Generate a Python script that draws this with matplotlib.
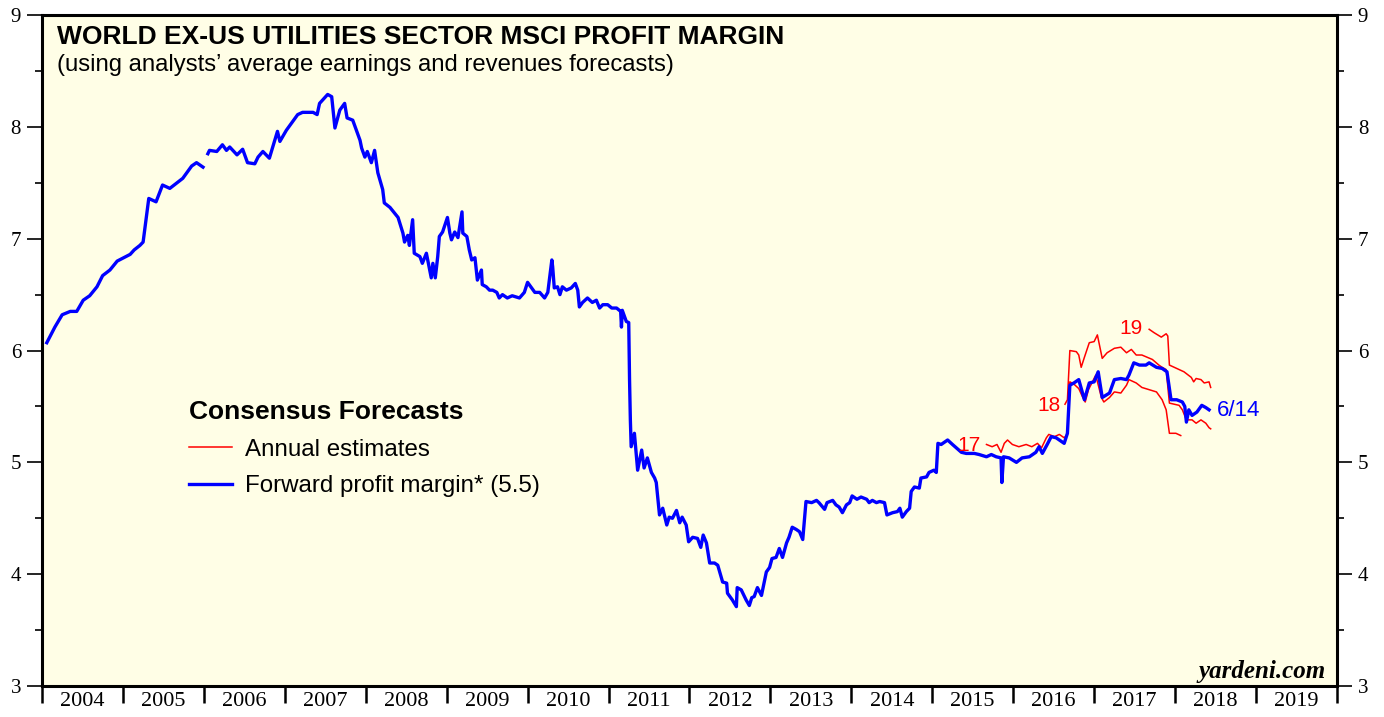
import matplotlib
matplotlib.use('Agg')
import matplotlib.pyplot as plt
from matplotlib.lines import Line2D
from matplotlib.ticker import MultipleLocator

# Forward profit margin (blue), decimal years
fwd_early_years = [2004.06, 2004.16, 2004.25, 2004.35, 2004.43, 2004.51, 2004.59, 2004.68,
                   2004.75, 2004.84, 2004.93, 2005.01, 2005.09, 2005.14, 2005.21, 2005.25,
                   2005.32, 2005.41, 2005.49, 2005.58, 2005.74, 2005.85, 2005.91, 2005.99]
fwd_early = [6.07, 6.21, 6.32, 6.35, 6.35, 6.45, 6.49, 6.57,
             6.67, 6.72, 6.80, 6.83, 6.86, 6.90, 6.94, 6.97,
             7.36, 7.33, 7.48, 7.45, 7.54, 7.65, 7.68, 7.64]

fwd_years = [2006.05, 2006.07, 2006.16, 2006.23, 2006.28, 2006.32, 2006.41, 2006.48, 2006.54, 2006.63,
             2006.67, 2006.73, 2006.81, 2006.91, 2006.94, 2007.02, 2007.09, 2007.16, 2007.22, 2007.35,
             2007.40, 2007.43, 2007.53, 2007.58, 2007.62, 2007.68, 2007.74, 2007.77, 2007.84, 2007.93,
             2007.95, 2007.99, 2008.02, 2008.07, 2008.11, 2008.15, 2008.21, 2008.23, 2008.30, 2008.40,
             2008.46, 2008.48, 2008.52, 2008.54, 2008.58, 2008.60, 2008.67, 2008.70, 2008.75, 2008.79,
             2008.81, 2008.83, 2008.86, 2008.89, 2008.91, 2008.95, 2009.00, 2009.01, 2009.04, 2009.06,
             2009.10, 2009.14, 2009.19, 2009.20, 2009.25, 2009.28, 2009.31, 2009.35, 2009.38, 2009.43,
             2009.44, 2009.49, 2009.53, 2009.57, 2009.62, 2009.65, 2009.69, 2009.75, 2009.81, 2009.90,
             2009.96, 2010.00, 2010.05, 2010.09, 2010.15, 2010.21, 2010.25, 2010.30, 2010.31, 2010.33,
             2010.37, 2010.40, 2010.43, 2010.48, 2010.54, 2010.59, 2010.62, 2010.64, 2010.68, 2010.74,
             2010.80, 2010.85, 2010.89, 2010.93, 2010.99, 2011.04, 2011.10, 2011.15, 2011.16, 2011.17,
             2011.22, 2011.25, 2011.26, 2011.27, 2011.28, 2011.32, 2011.36, 2011.41, 2011.44, 2011.48,
             2011.53, 2011.57, 2011.59, 2011.63, 2011.67, 2011.72, 2011.75, 2011.79, 2011.84, 2011.88,
             2011.91, 2011.96, 2011.99, 2012.04, 2012.10, 2012.14, 2012.17, 2012.21, 2012.25, 2012.31,
             2012.35, 2012.41, 2012.46, 2012.47, 2012.53, 2012.58, 2012.59, 2012.64, 2012.70, 2012.74,
             2012.77, 2012.80, 2012.84, 2012.89, 2012.95, 2012.99, 2013.02, 2013.07, 2013.11, 2013.15,
             2013.20, 2013.23, 2013.27, 2013.32, 2013.36, 2013.40, 2013.44, 2013.51, 2013.57, 2013.60,
             2013.67, 2013.70, 2013.77, 2013.81, 2013.85, 2013.89, 2013.94, 2013.98, 2014.01, 2014.07,
             2014.12, 2014.19, 2014.22, 2014.26, 2014.31, 2014.35, 2014.41, 2014.44, 2014.51, 2014.57,
             2014.60, 2014.63, 2014.68, 2014.72, 2014.74, 2014.78, 2014.84, 2014.86, 2014.93, 2014.96,
             2015.02, 2015.05, 2015.07, 2015.11, 2015.19, 2015.25, 2015.36, 2015.42, 2015.52, 2015.58,
             2015.67, 2015.73, 2015.79, 2015.85, 2015.86, 2015.88, 2015.95, 2016.04, 2016.11, 2016.20,
             2016.28, 2016.32, 2016.36, 2016.42, 2016.47, 2016.53, 2016.57, 2016.63, 2016.67, 2016.70,
             2016.75, 2016.81, 2016.88, 2016.94, 2017.00, 2017.05, 2017.10, 2017.19, 2017.25, 2017.33,
             2017.40, 2017.43, 2017.49, 2017.56, 2017.64, 2017.68, 2017.77, 2017.84, 2017.90, 2017.95,
             2018.02, 2018.09, 2018.12, 2018.14, 2018.17, 2018.21, 2018.27, 2018.33, 2018.38, 2018.42]
fwd_margin = [7.76, 7.79, 7.78, 7.84, 7.79, 7.82, 7.75, 7.80, 7.68, 7.67,
              7.73, 7.78, 7.72, 7.96, 7.87, 7.97, 8.04, 8.11, 8.13, 8.13,
              8.11, 8.21, 8.29, 8.27, 7.99, 8.15, 8.21, 8.08, 8.06, 7.88,
              7.81, 7.73, 7.78, 7.68, 7.79, 7.59, 7.44, 7.32, 7.28, 7.19,
              7.05, 6.97, 7.03, 6.94, 7.17, 6.87, 6.84, 6.78, 6.87, 6.72,
              6.65, 6.78, 6.65, 6.84, 7.02, 7.06, 7.17, 7.19, 7.05, 6.99,
              7.06, 7.01, 7.24, 7.05, 7.02, 6.90, 6.81, 6.83, 6.63, 6.72,
              6.59, 6.57, 6.54, 6.54, 6.52, 6.47, 6.50, 6.47, 6.49, 6.47,
              6.52, 6.61, 6.56, 6.52, 6.52, 6.47, 6.52, 6.81, 6.75, 6.56,
              6.57, 6.50, 6.57, 6.54, 6.56, 6.60, 6.54, 6.39, 6.43, 6.47,
              6.43, 6.45, 6.38, 6.41, 6.41, 6.38, 6.38, 6.35, 6.21, 6.36,
              6.26, 6.25, 5.74, 5.38, 5.14, 5.26, 4.93, 5.11, 4.95, 5.04,
              4.91, 4.86, 4.82, 4.53, 4.59, 4.44, 4.51, 4.50, 4.57, 4.46,
              4.51, 4.44, 4.29, 4.33, 4.32, 4.24, 4.35, 4.28, 4.10, 4.10,
              4.08, 3.93, 3.92, 3.83, 3.77, 3.71, 3.88, 3.86, 3.77, 3.72,
              3.79, 3.80, 3.88, 3.81, 4.02, 4.06, 4.14, 4.15, 4.23, 4.15,
              4.28, 4.33, 4.42, 4.40, 4.38, 4.31, 4.65, 4.64, 4.66, 4.64,
              4.58, 4.64, 4.66, 4.62, 4.60, 4.55, 4.62, 4.64, 4.70, 4.67,
              4.69, 4.67, 4.64, 4.66, 4.64, 4.65, 4.64, 4.53, 4.55, 4.56,
              4.59, 4.51, 4.56, 4.59, 4.74, 4.78, 4.77, 4.86, 4.87, 4.91,
              4.93, 4.91, 5.17, 5.16, 5.20, 5.16, 5.09, 5.08, 5.08, 5.07,
              5.05, 5.07, 5.05, 5.04, 4.82, 5.05, 5.04, 5.00, 5.04, 5.05,
              5.09, 5.14, 5.08, 5.16, 5.23, 5.22, 5.20, 5.17, 5.26, 5.69,
              5.71, 5.74, 5.56, 5.71, 5.72, 5.81, 5.58, 5.62, 5.74, 5.75,
              5.74, 5.78, 5.89, 5.87, 5.87, 5.89, 5.85, 5.84, 5.81, 5.56,
              5.56, 5.54, 5.50, 5.36, 5.47, 5.42, 5.45, 5.51, 5.49, 5.47]

# Annual estimates (red)
est17_years = [2015.67, 2015.74, 2015.80, 2015.85, 2015.89, 2015.93, 2015.99, 2016.07, 2016.16, 2016.23,
               2016.30, 2016.35, 2016.41, 2016.44, 2016.51, 2016.57, 2016.63, 2016.67, 2016.70, 2016.75,
               2016.81, 2016.86, 2016.89, 2016.93, 2017.02, 2017.09, 2017.12, 2017.19, 2017.25, 2017.33,
               2017.40, 2017.43, 2017.52, 2017.59, 2017.68, 2017.77, 2017.84, 2017.89, 2017.93, 2018.01,
               2018.07]
est17 = [5.16, 5.14, 5.16, 5.09, 5.17, 5.20, 5.16, 5.14, 5.16, 5.14,
         5.17, 5.13, 5.22, 5.25, 5.23, 5.25, 5.22, 5.25, 5.72, 5.70,
         5.66, 5.58, 5.54, 5.65, 5.78, 5.58, 5.54, 5.58, 5.63, 5.62,
         5.69, 5.74, 5.71, 5.67, 5.65, 5.63, 5.56, 5.47, 5.26, 5.26,
         5.24]

est18_years = [2016.64, 2016.67, 2016.70, 2016.78, 2016.81, 2016.84, 2016.88, 2016.94, 2017.00, 2017.04,
               2017.06, 2017.10, 2017.16, 2017.25, 2017.33, 2017.40, 2017.46, 2017.52, 2017.59, 2017.72,
               2017.80, 2017.84, 2017.89, 2017.93, 2018.05, 2018.09, 2018.14, 2018.21, 2018.26, 2018.32,
               2018.38, 2018.42, 2018.44]
est18 = [5.52, 5.56, 6.00, 5.99, 5.96, 5.85, 5.94, 6.07, 6.08, 6.14,
         6.07, 5.93, 5.98, 6.02, 6.03, 5.98, 6.01, 5.96, 5.96, 5.92,
         5.87, 5.85, 5.83, 5.53, 5.51, 5.47, 5.38, 5.38, 5.35, 5.38,
         5.35, 5.31, 5.30]

est19_years = [2017.68, 2017.74, 2017.83, 2017.89, 2017.91, 2017.93, 2018.02, 2018.11, 2018.20, 2018.23,
               2018.26, 2018.32, 2018.36, 2018.42, 2018.44]
est19 = [6.19, 6.16, 6.12, 6.15, 6.13, 5.87, 5.84, 5.81, 5.76, 5.72,
         5.75, 5.74, 5.71, 5.72, 5.67]

year_labels = [str(y) for y in range(2004, 2020)]

BLUE = '#0000ff'
RED = '#ff0000'

fig = plt.figure(figsize=(13.84, 7.17), dpi=100)
ax = fig.add_axes([0.0303, 0.0432, 0.9357, 0.9358])
ax.set_facecolor('#fffee6')

ax.plot(fwd_early_years, fwd_early, color=BLUE, lw=2.4, solid_joinstyle='round')
ax.plot(fwd_years, fwd_margin, color=BLUE, lw=2.4, solid_joinstyle='round', zorder=3)
ax.plot(est17_years, est17, color=RED, lw=1.1, zorder=2)
ax.plot(est18_years, est18, color=RED, lw=1.1, zorder=2)
ax.plot(est19_years, est19, color=RED, lw=1.1, zorder=2)

lab_font = 'Liberation Sans'
ax.text(2015.46, 5.15, '17', color=RED, fontsize=15, family=lab_font, ha='center', va='center')
ax.text(2016.44, 5.51, '18', color=RED, fontsize=15, family=lab_font, ha='center', va='center')
ax.text(2017.46, 6.20, '19', color=RED, fontsize=15, family=lab_font, ha='center', va='center')
ax.text(2018.52, 5.46, '6/14', color=BLUE, fontsize=16, family=lab_font, ha='left', va='center')

ax.set_xlim(2004, 2020)
ax.set_ylim(3, 9)

# x axis: ticks at year boundaries, labels centered in each year
ax.set_xticks(range(2004, 2021))
ax.set_xticklabels([])
ax.set_xticks([y + 0.5 for y in range(2004, 2020)], minor=True)
ax.set_xticklabels(year_labels, minor=True)
ax.tick_params(axis='x', which='major', length=12, width=1.8, direction='out')
ax.tick_params(axis='x', which='minor', length=0, pad=4, labelsize=16)

ax.yaxis.set_major_locator(MultipleLocator(1))
ax.yaxis.set_minor_locator(MultipleLocator(0.5))
ax.tick_params(axis='y', which='major', length=11, width=1.2, direction='out',
               left=True, right=True, labelleft=True, labelright=True, labelsize=15, pad=4)
ax.tick_params(axis='y', which='minor', length=5, width=1.2, direction='out', left=True, right=True)

for lab in ax.get_xticklabels(minor=True) + ax.get_yticklabels():
    lab.set_family('Liberation Serif')

for s in ax.spines.values():
    s.set_linewidth(2.2)

ax.text(0.0116, 0.985, 'WORLD EX-US UTILITIES SECTOR MSCI PROFIT MARGIN', transform=ax.transAxes,
        fontsize=19, fontweight='bold', family=lab_font, va='top', ha='left')
ax.text(0.0116, 0.942, '(using analysts\u2019 average earnings and revenues forecasts)',
        transform=ax.transAxes, fontsize=17.2, family=lab_font, va='top', ha='left')
ax.text(0.9915, 0.012, 'yardeni.com', transform=ax.transAxes, fontsize=18,
        family='Liberation Serif', fontweight='bold', style='italic', ha='right', va='baseline')

handles = [Line2D([], [], color=RED, lw=1.1), Line2D([], [], color=BLUE, lw=2.4)]
leg = ax.legend(handles, ['Annual estimates', 'Forward profit margin* (5.5)'],
                title='Consensus Forecasts', loc='upper left', bbox_to_anchor=(0.104, 0.444),
                frameon=False, borderpad=0, handlelength=1.8, handletextpad=0.55,
                labelspacing=0.6, alignment='left',
                title_fontproperties={'weight': 'bold', 'size': 19, 'family': lab_font},
                prop={'family': lab_font, 'size': 17.4})

fig.savefig('out.png', dpi=100)
